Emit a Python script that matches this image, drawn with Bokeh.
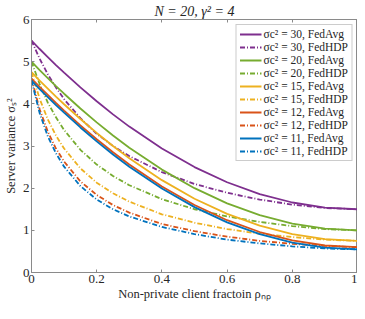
from bokeh.plotting import figure
from bokeh.models import LinearAxis, Range1d, FixedTicker, Legend, LegendItem, CustomJSTickFormatter
from bokeh.embed import file_html
from bokeh.resources import INLINE

# Non-private client fraction (x values)
rho = [0, 0.025, 0.05, 0.075, 0.1, 0.15, 0.2, 0.25, 0.3, 0.4, 0.5, 0.6, 0.7, 0.8, 0.9, 1.0]

# FedAvg curves (solid)
avg_30 = [5.50, 5.30, 5.11, 4.92, 4.74, 4.39, 4.06, 3.75, 3.46, 2.94, 2.50, 2.14, 1.86, 1.66, 1.54, 1.50]
avg_20 = [5.00, 4.80, 4.61, 4.42, 4.24, 3.89, 3.56, 3.25, 2.96, 2.44, 2.00, 1.64, 1.36, 1.16, 1.04, 1.00]
avg_15 = [4.75, 4.55, 4.36, 4.17, 3.99, 3.64, 3.31, 3.00, 2.71, 2.19, 1.75, 1.39, 1.11, 0.91, 0.79, 0.75]
avg_12 = [4.60, 4.40, 4.21, 4.02, 3.84, 3.49, 3.16, 2.85, 2.56, 2.04, 1.60, 1.24, 0.96, 0.76, 0.64, 0.60]
avg_11 = [4.55, 4.35, 4.16, 3.97, 3.79, 3.44, 3.11, 2.80, 2.51, 1.99, 1.55, 1.19, 0.91, 0.71, 0.59, 0.55]

# FedHDP curves (dash-dot)
hdp_30 = [5.50, 5.07, 4.70, 4.39, 4.11, 3.66, 3.29, 3.00, 2.76, 2.38, 2.10, 1.89, 1.73, 1.61, 1.53, 1.50]
hdp_20 = [5.00, 4.47, 4.03, 3.68, 3.38, 2.91, 2.56, 2.29, 2.07, 1.74, 1.50, 1.33, 1.20, 1.10, 1.03, 1.00]
hdp_15 = [4.75, 4.12, 3.63, 3.25, 2.94, 2.47, 2.13, 1.88, 1.68, 1.38, 1.18, 1.03, 0.92, 0.84, 0.78, 0.75]
hdp_12 = [4.60, 3.87, 3.34, 2.94, 2.63, 2.16, 1.84, 1.60, 1.42, 1.15, 0.98, 0.85, 0.75, 0.68, 0.63, 0.60]
hdp_11 = [4.55, 3.78, 3.23, 2.83, 2.51, 2.05, 1.73, 1.50, 1.33, 1.08, 0.91, 0.78, 0.69, 0.62, 0.57, 0.55]

sigma_c2 = ["30", "20", "15", "12", "11"]
x_ticks = [0, 0.2, 0.4, 0.6, 0.8, 1]
y_ticks = [0, 1, 2, 3, 4, 5, 6]

colors = ["#7E2F8E", "#77AC30", "#EDB120", "#D95319", "#0072BD"]
avg_series = [avg_30, avg_20, avg_15, avg_12, avg_11]
hdp_series = [hdp_30, hdp_20, hdp_15, hdp_12, hdp_11]

FONT = "Liberation Serif"
AX = "#8a8a8a"
TXT = "#262626"

p = figure(width=357, height=303, x_range=Range1d(0, 1), y_range=Range1d(0, 6),
           output_backend="svg", toolbar_location=None,
           title="N = 20, γ² = 4",
           min_border_left=0, min_border_right=0, min_border_top=0, min_border_bottom=0)

p.title.align = "center"
p.title.text_font = FONT
p.title.text_font_size = "14px"
p.title.text_font_style = "italic"
p.title.text_color = TXT
p.title.standoff = 2

p.xgrid.visible = False
p.ygrid.visible = False
p.outline_line_color = AX
p.background_fill_color = "white"

for ax, ticks in ((p.xaxis[0], x_ticks), (p.yaxis[0], y_ticks)):
    ax.ticker = FixedTicker(ticks=ticks)
    ax.major_tick_in = 3
    ax.major_tick_out = 0
    ax.minor_tick_line_color = None
    ax.axis_line_color = AX
    ax.major_tick_line_color = AX
    ax.major_label_text_font = FONT
    ax.major_label_text_font_size = "13px"
    ax.major_label_text_color = TXT
    ax.major_label_standoff = 3
    ax.axis_label_text_font = FONT
    ax.axis_label_text_font_size = "12.5px"
    ax.axis_label_text_font_style = "normal"
    ax.axis_label_text_color = TXT
    ax.axis_label_standoff = 2

p.xaxis[0].formatter = CustomJSTickFormatter(code="return tick === 0 || tick === 1 ? tick.toFixed(0) : tick.toFixed(1);")
p.xaxis[0].axis_label = "Non-private client fractoin ρₙₚ"
p.xaxis[0].major_label_standoff = 2
p.xaxis[0].axis_label_standoff = 1
p.yaxis[0].axis_label = "Server variance σₛ²"
p.yaxis[0].major_label_orientation = "horizontal"
p.yaxis[0].major_label_standoff = 2

top_axis = LinearAxis(ticker=FixedTicker(ticks=x_ticks), formatter=CustomJSTickFormatter(code="return '';"),
                      major_tick_in=3, major_tick_out=0, minor_tick_line_color=None,
                      axis_line_color=AX, major_tick_line_color=AX,
                      major_label_standoff=0, major_label_text_font_size="1px")
p.add_layout(top_axis, "above")

items = []
for c, s, a, h in zip(colors, sigma_c2, avg_series, hdp_series):
    r1 = p.line(rho, a, line_color=c, line_width=1.8)
    r2 = p.line(rho, h, line_color=c, line_width=1.8, line_dash="5 2 1 2")
    items.append(LegendItem(label=f"σc² = {s}, FedAvg", renderers=[r1]))
    items.append(LegendItem(label=f"σc² = {s}, FedHDP", renderers=[r2]))

legend = Legend(items=items, location="top_right")
legend.label_text_font = FONT
legend.label_text_font_size = "11.5px"
legend.label_text_color = TXT
legend.label_height = 12
legend.glyph_height = 12
legend.glyph_width = 22
legend.spacing = 1
legend.padding = 3
legend.margin = 5
legend.label_standoff = 2
legend.border_line_color = "#9a9a9a"
legend.background_fill_alpha = 1
p.add_layout(legend)

open("out.html", "w").write(file_html(p, INLINE))
